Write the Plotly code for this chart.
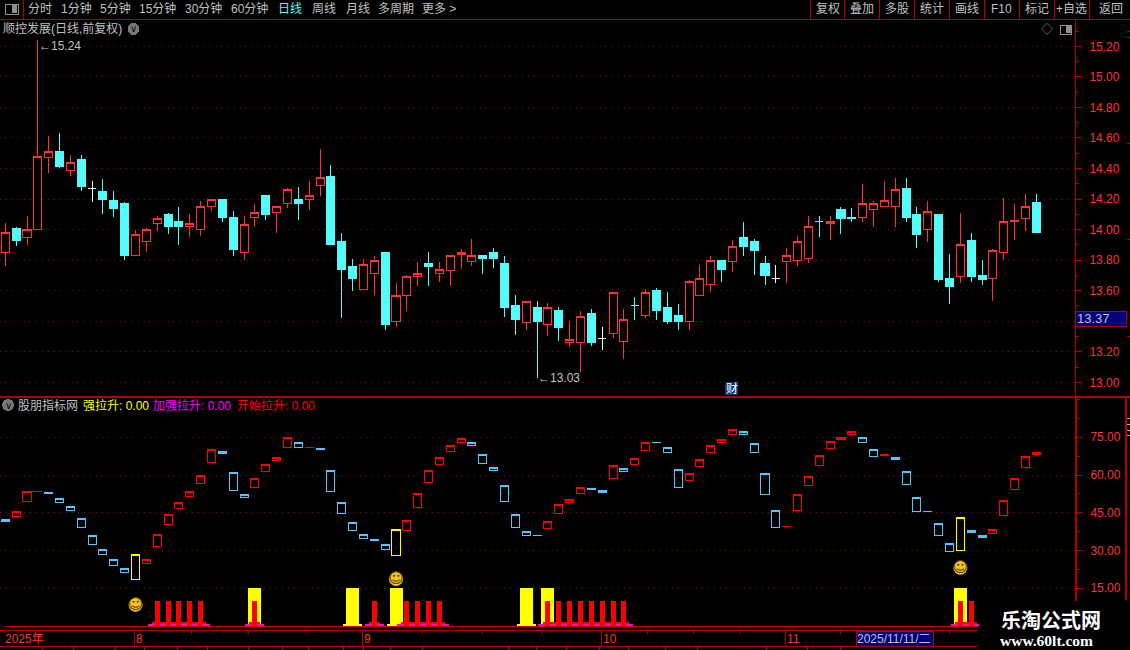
import plotly.graph_objects as go

# ---------- data ----------
price_kind = list("rcrrrcrcwc" "ccrrrccrrr" "ccrrcrrcrr" "cccrrcrrrc" "rrrrccccrc"
                  "rcrrcwrrcr" "cccrrrcrcc" "cwrrrcrccr" "rrrccrccrc" "crrrrc")
price_high = [14.04,14.02,14.09,15.24,14.61,14.63,14.49,14.49,14.32,14.33,14.25,14.18,14.00,14.01,14.09,14.11,
              14.15,14.10,14.19,14.20,14.20,14.12,14.09,14.17,14.22,14.15,14.27,14.28,14.32,14.53,14.42,13.98,
              13.81,13.81,13.83,13.85,13.65,13.70,13.79,13.85,13.79,13.83,13.87,13.94,13.83,13.88,13.83,13.57,
              13.53,13.53,13.52,13.49,13.40,13.47,13.48,13.36,13.59,13.48,13.56,13.61,13.62,13.59,13.51,13.67,
              13.77,13.83,13.80,13.93,14.05,13.94,13.83,13.77,13.88,13.96,14.09,14.09,14.09,14.15,14.14,14.30,
              14.19,14.32,14.34,14.34,14.15,14.19,14.10,13.84,14.11,13.98,13.80,13.87,14.21,14.17,14.23,14.23]
price_top = [13.98,14.01,14.00,14.48,14.51,14.51,14.44,14.46,14.27,14.25,14.19,14.17,13.97,14.00,14.07,14.10,
             14.05,14.04,14.15,14.20,14.20,14.08,14.03,14.11,14.22,14.15,14.26,14.20,14.22,14.34,14.35,13.925,
             13.755,13.77,13.80,13.85,13.57,13.69,13.71,13.78,13.74,13.83,13.85,13.83,13.83,13.85,13.78,13.50,
             13.53,13.49,13.49,13.47,13.28,13.43,13.45,13.29,13.59,13.41,13.50,13.59,13.60,13.49,13.44,13.66,
             13.68,13.80,13.80,13.89,13.95,13.92,13.78,13.68,13.83,13.92,14.02,14.05,14.05,14.13,14.08,14.17,
             14.17,14.19,14.26,14.27,14.10,14.12,14.10,13.68,13.90,13.93,13.70,13.86,14.05,14.06,14.15,14.18]
price_bottom = [13.85,13.93,13.95,14.00,14.47,14.41,14.39,14.28,14.27,14.20,14.14,13.83,13.83,13.92,14.04,14.02,
                14.02,14.02,14.00,14.15,14.08,13.87,13.85,14.08,14.10,14.11,14.17,14.17,14.20,14.29,13.90,13.74,
                13.68,13.61,13.71,13.38,13.40,13.57,13.69,13.76,13.71,13.73,13.84,13.79,13.81,13.81,13.49,13.41,
                13.39,13.40,13.38,13.36,13.26,13.26,13.26,13.29,13.32,13.27,13.50,13.44,13.47,13.40,13.40,13.40,
                13.57,13.64,13.74,13.79,13.89,13.86,13.70,13.68,13.79,13.80,13.81,14.05,14.04,14.07,14.07,14.08,
                14.13,14.15,14.15,14.08,13.97,14.00,13.67,13.63,13.69,13.69,13.67,13.68,13.85,14.05,14.07,13.98]
price_low = [13.76,13.89,13.90,14.00,14.37,14.40,14.35,14.25,14.18,14.10,14.08,13.80,13.83,13.85,13.99,13.97,
             13.90,13.95,13.96,14.12,14.05,13.83,13.80,14.02,14.06,13.98,14.14,14.06,14.13,14.22,13.90,13.42,
             13.60,13.61,13.57,13.34,13.36,13.47,13.63,13.63,13.66,13.63,13.74,13.76,13.71,13.75,13.43,13.31,
             13.34,13.03,13.30,13.27,13.23,13.07,13.24,13.21,13.29,13.15,13.41,13.42,13.41,13.38,13.34,13.34,
             13.57,13.59,13.66,13.72,13.83,13.70,13.64,13.65,13.65,13.76,13.78,13.95,13.93,13.97,14.05,14.05,
             14.02,14.15,14.02,14.05,13.88,13.92,13.66,13.51,13.65,13.66,13.64,13.53,13.80,13.93,13.99,13.98]

ind_kind = list("brrrbbbbbb" "bbyrrrrrrr" "bbbrrrrbrb" "bbbbbbyrrr" "rrrbbbbbbb"
                "rrrrbbrbrr" "bbbrrrrrbb" "bbrrrrrrrb" "brbbbbbbyb" "brrrrr")
ind_top = [42.4,45.6,53.5,53.5,53.1,50.8,47.6,42.8,36.1,30.5,26.5,22.9,28.5,26.5,36.5,44.4,49.2,53.5,59.9,70.2,
           69.4,61.1,52.4,58.7,64.3,67.1,75.0,73.0,71.1,70.6,61.9,49.2,41.2,36.5,34.5,
           32.5,38.4,42.0,52.7,61.9,67.1,71.8,74.7,73.0,68.2,63.1,55.9,44.4,37.6,36.1,41.6,48.4,50.4,55.1,54.7,53.9,
           63.9,62.7,66.7,73.0,73.0,71.0,62.3,60.7,66.3,71.8,74.2,78.2,77.4,
           72.6,60.7,46.0,39.7,52.4,59.5,67.8,73.4,75.0,77.4,75.0,70.2,68.2,67.1,61.5,51.2,45.6,40.8,32.9,43.2,37.8,
           36.1,38.4,50.0,58.7,67.5,69.0]
ind_bottom = [41.5,43.5,49.4,53.4,52.6,49.0,45.9,39.1,32.4,28.4,24.0,21.2,18.4,24.8,31.6,40.3,46.7,51.6,56.6,64.9,
              68.5,53.8,51.0,55.0,61.4,65.7,70.9,70.9,71.0,70.1,53.4,44.7,37.9,34.7,33.9,
              30.4,28.0,37.9,47.1,57.0,64.1,69.3,72.9,71.7,64.5,61.8,49.4,39.1,35.9,36.0,38.7,44.7,49.0,52.6,54.2,53.0,
              58.6,61.3,64.1,69.7,72.9,68.9,55.0,57.8,63.3,68.9,72.9,76.1,76.1,
              68.9,52.2,39.1,39.6,45.9,55.8,63.7,70.5,74.2,76.2,72.9,67.3,67.7,66.1,56.2,45.5,45.5,35.9,29.6,30.0,37.1,
              35.1,36.7,43.9,54.2,62.9,68.2]

strong_idx = [23, 32, 36, 48, 50, 88]
strong_val = [15, 15, 15, 15, 15, 15]
start_idx = [14, 15, 16, 17, 18, 23, 34, 37, 38, 39, 40, 50, 51, 52, 53, 54, 55, 56, 57, 88, 89]
start_val = [10] * len(start_idx)
smile_idx = [12, 36, 88]
smile_val = [8.4, 18.7, 23.1]

price_ticks = [13.0, 13.2, 13.4, 13.6, 13.8, 14.0, 14.2, 14.4, 14.6, 14.8, 15.0, 15.2]
price_labels = ["13.00", "13.20", "", "13.60", "13.80", "14.00", "14.20", "14.40", "14.60", "14.80", "15.00", "15.20"]
ind_ticks = [15, 30, 45, 60, 75]
ind_labels = ["15.00", "30.00", "45.00", "60.00", "75.00"]

menu_left = [("分时", 28, "#C0C0C0"), ("1分钟", 61, "#C0C0C0"), ("5分钟", 100, "#C0C0C0"), ("15分钟", 139, "#C0C0C0"),
             ("30分钟", 185, "#C0C0C0"), ("60分钟", 231, "#C0C0C0"), ("日线", 278, "#54FCFC"), ("周线", 312, "#C0C0C0"),
             ("月线", 346, "#C0C0C0"), ("多周期", 378, "#C0C0C0"), ("更多 >", 422, "#C0C0C0")]
menu_right = ["复权", "叠加", "多股", "统计", "画线", "F10", "标记", "+自选", "返回"]

# ---------- page geometry ----------
W, H = 1130, 650
SPACING = 10.853
FIRST = 5.3
AXIS_X = 1075
X_RANGE = [-FIRST / SPACING, (AXIS_X - FIRST) / SPACING]

RED = "#FF3232"
CYAN = "#54FCFC"
FRAME = "#B00000"
GRID = "#8A1414"
GRAY = "#C0C0C0"
IND_RED = "#FF0000"
IND_BLUE = "#58C4FF"
YELLOW = "#FFFF00"
FONT = "Liberation Sans, Noto Sans CJK SC"


def ax(x):
    return x / W


def ay(y):
    return 1 - y / H


shapes = []
annotations = []


def line(x0, y0, x1, y1, color=FRAME, w=1):
    shapes.append(dict(type="line", xref="paper", yref="paper", x0=ax(x0), y0=ay(y0), x1=ax(x1), y1=ay(y1),
                       line=dict(color=color, width=w), layer="above"))


def rect(x0, y0, x1, y1, fill="rgba(0,0,0,0)", color=None, w=1):
    shapes.append(dict(type="rect", xref="paper", yref="paper", x0=ax(x0), y0=ay(y0), x1=ax(x1), y1=ay(y1),
                       fillcolor=fill, line=dict(color=color or "rgba(0,0,0,0)", width=w if color else 0), layer="above"))


def circle(x0, y0, x1, y1, fill):
    shapes.append(dict(type="circle", xref="paper", yref="paper", x0=ax(x0), y0=ay(y0), x1=ax(x1), y1=ay(y1),
                       fillcolor=fill, line=dict(width=0), layer="above"))


def text(x, y, s, color=GRAY, size=12, anchor="left", family=FONT):
    annotations.append(dict(xref="paper", yref="paper", x=ax(x), y=ay(y), text=s, showarrow=False,
                            xanchor=anchor, yanchor="middle", borderpad=0, borderwidth=0,
                            font=dict(color=color, size=size, family=family)))


fig = go.Figure()


def candles(idx, opens, highs, lows, closes, color, fill, yaxis):
    side = dict(line=dict(color=color, width=1), fillcolor=fill)
    fig.add_trace(go.Candlestick(x=idx, open=opens, high=highs, low=lows, close=closes,
                                 increasing=side, decreasing=side, whiskerwidth=0,
                                 xaxis="x", yaxis=yaxis, showlegend=False, hoverinfo="skip"))


# ---------- indicator bars ----------
def bars(idx, base, val, width, color):
    fig.add_trace(go.Bar(x=idx, y=val, base=base, width=width, marker=dict(color=color, line=dict(width=0)),
                         xaxis="x", yaxis="y2", showlegend=False, hoverinfo="skip"))


bars(strong_idx, [0] * len(strong_idx), strong_val, 1.2, YELLOW)
bars(strong_idx, [0] * len(strong_idx), [0.5] * len(strong_idx), 1.75, YELLOW)
bars(start_idx, [0] * len(start_idx), [0.5] * len(start_idx), 1.75, "#F010C0")
bars(start_idx, [0.9] * len(start_idx), [0.35] * len(start_idx), 1.0, IND_RED)
bars(start_idx, [0] * len(start_idx), start_val, 0.46, IND_RED)

# ---------- price candles ----------
for kind, color, fill in (("r", RED, "#000000"), ("c", CYAN, CYAN), ("w", "#FFFFFF", "#FFFFFF")):
    sel = [i for i, k in enumerate(price_kind) if k == kind]
    opens = [price_bottom[i] if kind == "r" else price_top[i] for i in sel]
    closes = [price_top[i] if kind == "r" else price_bottom[i] for i in sel]
    candles(sel, opens, [price_high[i] for i in sel], [price_low[i] for i in sel], closes, color, fill, "y")

# ---------- indicator boxes ----------
for kind, color in (("r", IND_RED), ("b", IND_BLUE), ("y", YELLOW)):
    sel = [i for i, k in enumerate(ind_kind) if k == kind]
    tops = [ind_top[i] for i in sel]
    bots = [ind_bottom[i] for i in sel]
    candles(sel, bots, tops, bots, tops, color, "#000000", "y2")

# ---------- smileys ----------
fig.add_trace(go.Scatter(x=smile_idx, y=smile_val, mode="markers+text", text=["☺"] * len(smile_idx),
                         textposition="middle center", textfont=dict(family="DejaVu Sans", size=15, color="#5A4000"),
                         marker=dict(size=14, color="#F2C522", line=dict(width=0)),
                         xaxis="x", yaxis="y2", showlegend=False, hoverinfo="skip"))

# ---------- chrome ----------
line(0, 19.5, W, 19.5)
line(23.5, 0, 23.5, 19)
rect(5, 4, 18, 14, fill="#000000", color="#909090")
rect(12, 5, 17, 13, fill="#909090")
for label, x, color in menu_left:
    text(x, 9, label, color=color)
sep_x = [810.7, 844.7, 879.3, 914.3, 949.3, 984.3, 1019.3, 1054.3, 1089.3]
for i, label in enumerate(menu_right):
    line(sep_x[i], 0, sep_x[i], 19)
    right = sep_x[i + 1] if i + 1 < len(sep_x) else W + 3
    text((sep_x[i] + right) / 2, 9, label, anchor="center")

text(3, 29, "顺控发展(日线,前复权)")
circle(127.5, 23, 139.5, 35, "#787878")
text(133.5, 29, "∨", color="#111111", size=10, anchor="center", family="DejaVu Sans")
text(1047, 29, "◇", color="#808080", size=12, anchor="center", family="Noto Sans CJK SC")
rect(1060.5, 25, 1071.5, 34, fill="#000000", color="#909090")
rect(1066, 26, 1071, 33, fill="#909090")

annotations.append(dict(xref="x", yref="y", x=3, y=15.24, text="←15.24", showarrow=False, xanchor="left",
                        yanchor="middle", xshift=-1, yshift=-6, font=dict(color=GRAY, size=12, family=FONT)))
annotations.append(dict(xref="x", yref="y", x=49, y=13.03, text="←13.03", showarrow=False, xanchor="left",
                        yanchor="middle", xshift=-1, font=dict(color=GRAY, size=12, family=FONT)))

rect(725, 382, 738, 395, fill="#0A3A78")
text(731.5, 388.5, "财", color="#FFFFFF", size=12, anchor="center")

# frames
line(0, 396.5, W, 396.5, w=2)
line(1126, 397, 1126, 600, w=2)

# right-hand strip marks
for y in (31, 37, 143, 239, 336):
    line(1127, y, W, y, color=FRAME)
for y in (418, 424, 430, 435):
    line(1127, y, W, y, color="#B0B0B0")

# current-price box
rect(1075.5, 311, 1126.5, 326, fill="#000080", color=FRAME)
text(1077, 318.5, "13.37", color=GRAY, size=13)

# indicator title
circle(2, 399, 14, 411, "#787878")
text(8, 405, "∨", color="#111111", size=10, anchor="center", family="DejaVu Sans")
text(18, 405, "股朋指标网")
text(83, 405, "强拉升: 0.00", color=YELLOW)
text(153, 405, "加强拉升: 0.00", color="#FF00FF")
text(237, 405, "开始拉升: 0.00", color=IND_RED)

# baseline and time bar
line(5, 626.5, 978, 626.5, color="#D00000")
line(0, 630.5, 978, 630.5)
line(0, 646.5, 978, 646.5)
for x in (134.5, 362.5, 601.5, 785.5):
    line(x, 631, x, 646)
for x in (191, 248, 305, 422, 482, 541, 647, 693, 739, 840, 949):
    line(x, 631, x, 634)
for x in (42, 73, 115, 144, 177, 207, 248, 282, 308, 343, 363, 390, 422, 508, 536, 566, 599, 628, 665, 697, 766, 807, 840):
    line(x, 647, x, 650)
text(5, 639, "2025年", color=RED, size=12)
text(136, 639, "8", color=RED, size=12)
text(364, 639, "9", color=RED, size=12)
text(603, 639, "10", color=RED, size=12)
text(787, 639, "11", color=RED, size=12)
rect(856, 631, 933, 646, fill="#000080", color=FRAME)
text(857, 639, "2025/11/11/二", color=GRAY, size=12)

# watermark
rect(978.5, 600.5, W, H, fill="#000000")
text(1050.5, 619, "<b>乐淘公式网</b>", color="#FFFFFF", size=20, anchor="center", family="Noto Sans CJK SC")
text(1046, 640, "<b>www.60lt.com</b>", color="#FFFFFF", size=15.5, anchor="center", family="Liberation Serif")


def y_axis(domain, rng, ticks, labels, minor_tick0, minor_dtick, width):
    return dict(domain=domain, range=rng, side="right", anchor="x", tickmode="array", tickvals=ticks, ticktext=labels,
                ticks="outside", ticklen=6, tickwidth=1, tickcolor=FRAME, tickfont=dict(color=RED, size=12, family=FONT),
                ticklabelstandoff=5, showgrid=True, griddash="1px,5px", gridcolor=GRID, gridwidth=1, zeroline=False,
                showline=True, linecolor=FRAME, linewidth=width, fixedrange=True,
                minor=dict(ticks="outside", ticklen=3, tickwidth=1, tickcolor=FRAME, tick0=minor_tick0,
                           dtick=minor_dtick, showgrid=False))


fig.update_layout(
    width=W, height=H, autosize=False, margin=dict(l=0, r=0, t=0, b=0, pad=0),
    paper_bgcolor="#000000", plot_bgcolor="#000000", showlegend=False,
    boxgap=0.26, boxgroupgap=0, barmode="overlay", bargap=0,
    xaxis=dict(domain=[0, AXIS_X / W], range=X_RANGE, visible=False, rangeslider=dict(visible=False), fixedrange=True),
    yaxis=y_axis([ay(396), ay(20)], [13.0 - (396 - 382.3) / 152.7, 15.2 + (46.3 - 20) / 152.7],
                 price_ticks, price_labels, 13.0, 0.1, 1),
    yaxis2=y_axis([ay(627), ay(397)], [-0.4, 75 + (437.3 - 397) / 2.517], ind_ticks, ind_labels, 0, 7.5, 2),
    shapes=shapes, annotations=annotations,
    font=dict(family=FONT),
)

fig.write_html("out.html", config=dict(displayModeBar=False),
               post_script="document.body.style.margin='0';document.body.style.background='#000';"
                           "document.documentElement.style.overflow='hidden';"
                           "document.head.insertAdjacentHTML('beforeend','<style>.boxes path,.shapelayer path"
                           "{shape-rendering:crispEdges !important}</style>');")
